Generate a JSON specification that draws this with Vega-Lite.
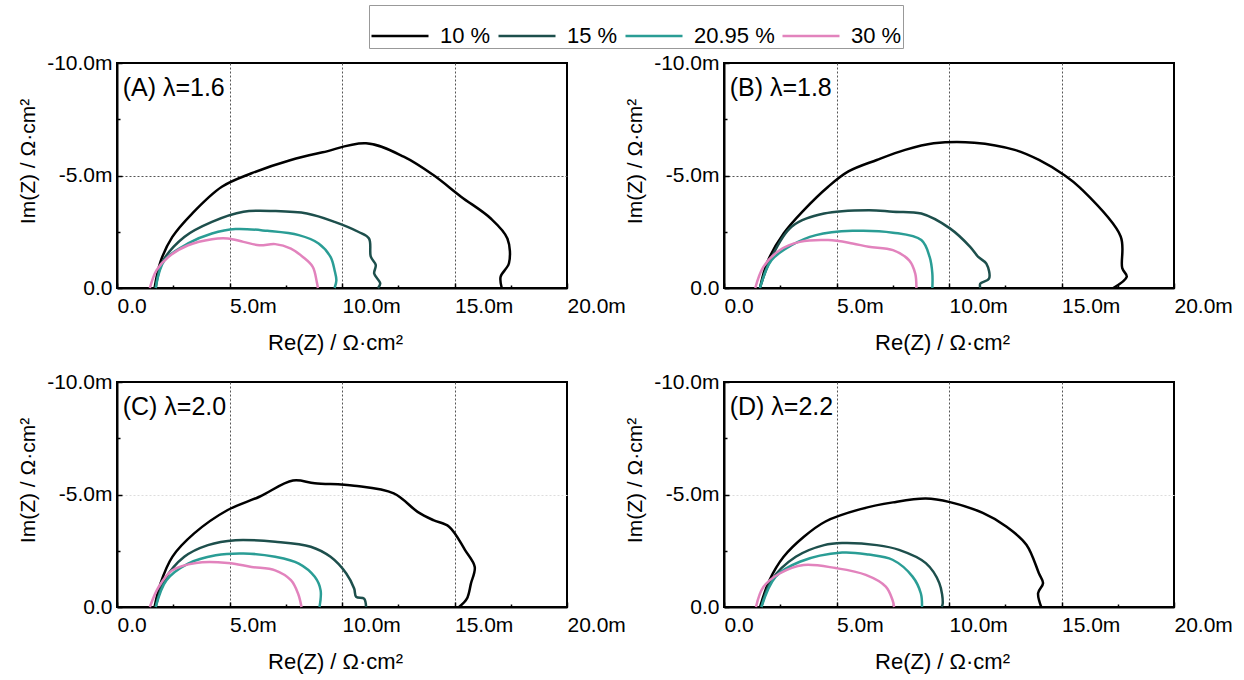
{
  "$schema": "https://vega.github.io/schema/vega-lite/v6.json",
  "padding": {"left": 16, "top": 4, "right": 5, "bottom": 5},
  "background": "white",
  "config": {
    "font": "Liberation Sans",
    "view": {"stroke": "black", "strokeWidth": 2},
    "axis": {
      "labelFont": "Liberation Sans", "labelFontSize": 21, "labelColor": "black",
      "titleFont": "Liberation Sans", "titleFontSize": 22, "titleFontWeight": "normal", "titleColor": "black",
      "domainColor": "black", "domainWidth": 2, "tickColor": "black", "tickWidth": 1.5,
      "labelFlush": false, "labelOverlap": false
    },
    "legend": {"labelFont": "Liberation Sans"}
  },
  "datasets": {
    "eis": [
      {"p":"A","s":"10 %","i":0,"re":1.67,"im":0},{"p":"A","s":"10 %","i":1,"re":1.93,"im":-1.16},{"p":"A","s":"10 %","i":2,"re":2.46,"im":-2.27},{"p":"A","s":"10 %","i":3,"re":3.34,"im":-3.31},{"p":"A","s":"10 %","i":4,"re":4.66,"im":-4.5},{"p":"A","s":"10 %","i":5,"re":5.98,"im":-5.1},{"p":"A","s":"10 %","i":6,"re":7.73,"im":-5.69},{"p":"A","s":"10 %","i":7,"re":9.14,"im":-6.03},{"p":"A","s":"10 %","i":8,"re":11.07,"im":-6.43},{"p":"A","s":"10 %","i":9,"re":12.74,"im":-5.84},{"p":"A","s":"10 %","i":10,"re":14.06,"im":-5.02},{"p":"A","s":"10 %","i":11,"re":15.29,"im":-4.06},{"p":"A","s":"10 %","i":12,"re":16.6,"im":-3.1},{"p":"A","s":"10 %","i":13,"re":17.35,"im":-2.2},{"p":"A","s":"10 %","i":14,"re":17.42,"im":-1.1},{"p":"A","s":"10 %","i":15,"re":17.05,"im":-0.5},{"p":"A","s":"10 %","i":16,"re":17.1,"im":0},
      {"p":"A","s":"15 %","i":0,"re":1.72,"im":0},{"p":"A","s":"15 %","i":1,"re":2.02,"im":-1.16},{"p":"A","s":"15 %","i":2,"re":2.99,"im":-2.27},{"p":"A","s":"15 %","i":3,"re":4.22,"im":-2.94},{"p":"A","s":"15 %","i":4,"re":5.62,"im":-3.39},{"p":"A","s":"15 %","i":5,"re":7.03,"im":-3.42},{"p":"A","s":"15 %","i":6,"re":8.44,"im":-3.31},{"p":"A","s":"15 %","i":7,"re":9.67,"im":-2.94},{"p":"A","s":"15 %","i":8,"re":10.72,"im":-2.5},{"p":"A","s":"15 %","i":9,"re":11.2,"im":-2.2},{"p":"A","s":"15 %","i":10,"re":11.28,"im":-1.39},{"p":"A","s":"15 %","i":11,"re":11.5,"im":-1.02},{"p":"A","s":"15 %","i":12,"re":11.43,"im":-0.64},{"p":"A","s":"15 %","i":13,"re":11.7,"im":-0.2},{"p":"A","s":"15 %","i":14,"re":11.6,"im":0},
      {"p":"A","s":"20.95 %","i":0,"re":1.72,"im":0},{"p":"A","s":"20.95 %","i":1,"re":2.11,"im":-1.23},{"p":"A","s":"20.95 %","i":2,"re":3.16,"im":-1.98},{"p":"A","s":"20.95 %","i":3,"re":4.22,"im":-2.42},{"p":"A","s":"20.95 %","i":4,"re":5.27,"im":-2.62},{"p":"A","s":"20.95 %","i":5,"re":6.68,"im":-2.54},{"p":"A","s":"20.95 %","i":6,"re":8.08,"im":-2.35},{"p":"A","s":"20.95 %","i":7,"re":8.96,"im":-1.98},{"p":"A","s":"20.95 %","i":8,"re":9.49,"im":-1.38},{"p":"A","s":"20.95 %","i":9,"re":9.67,"im":-0.79},{"p":"A","s":"20.95 %","i":10,"re":9.75,"im":-0.34},{"p":"A","s":"20.95 %","i":11,"re":9.67,"im":0},
      {"p":"A","s":"30 %","i":0,"re":1.46,"im":0},{"p":"A","s":"30 %","i":1,"re":1.76,"im":-0.79},{"p":"A","s":"30 %","i":2,"re":2.28,"im":-1.38},{"p":"A","s":"30 %","i":3,"re":3.16,"im":-1.9},{"p":"A","s":"30 %","i":4,"re":4.22,"im":-2.17},{"p":"A","s":"30 %","i":5,"re":4.92,"im":-2.2},{"p":"A","s":"30 %","i":6,"re":5.62,"im":-2.05},{"p":"A","s":"30 %","i":7,"re":6.33,"im":-1.9},{"p":"A","s":"30 %","i":8,"re":7.03,"im":-1.95},{"p":"A","s":"30 %","i":9,"re":7.73,"im":-1.75},{"p":"A","s":"30 %","i":10,"re":8.26,"im":-1.38},{"p":"A","s":"30 %","i":11,"re":8.7,"im":-0.94},{"p":"A","s":"30 %","i":12,"re":8.88,"im":-0.27},{"p":"A","s":"30 %","i":13,"re":8.93,"im":0},

      {"p":"B","s":"10 %","i":0,"re":1.6,"im":0},{"p":"B","s":"10 %","i":1,"re":1.93,"im":-1.16},{"p":"B","s":"10 %","i":2,"re":2.65,"im":-2.42},{"p":"B","s":"10 %","i":3,"re":3.55,"im":-3.46},{"p":"B","s":"10 %","i":4,"re":4.63,"im":-4.5},{"p":"B","s":"10 %","i":5,"re":5.53,"im":-5.18},{"p":"B","s":"10 %","i":6,"re":6.79,"im":-5.69},{"p":"B","s":"10 %","i":7,"re":8.05,"im":-6.14},{"p":"B","s":"10 %","i":8,"re":9.32,"im":-6.43},{"p":"B","s":"10 %","i":9,"re":11.12,"im":-6.46},{"p":"B","s":"10 %","i":10,"re":12.92,"im":-6.14},{"p":"B","s":"10 %","i":11,"re":14.0,"im":-5.69},{"p":"B","s":"10 %","i":12,"re":15.15,"im":-5.0},{"p":"B","s":"10 %","i":13,"re":15.83,"im":-4.45},{"p":"B","s":"10 %","i":14,"re":17.63,"im":-2.29},{"p":"B","s":"10 %","i":15,"re":17.7,"im":-0.88},{"p":"B","s":"10 %","i":16,"re":17.9,"im":-0.5},{"p":"B","s":"10 %","i":17,"re":17.3,"im":0},
      {"p":"B","s":"15 %","i":0,"re":1.6,"im":0},{"p":"B","s":"15 %","i":1,"re":2.02,"im":-1.16},{"p":"B","s":"15 %","i":2,"re":3.0,"im":-2.72},{"p":"B","s":"15 %","i":3,"re":4.45,"im":-3.31},{"p":"B","s":"15 %","i":4,"re":6.43,"im":-3.46},{"p":"B","s":"15 %","i":5,"re":7.51,"im":-3.39},{"p":"B","s":"15 %","i":6,"re":8.77,"im":-3.31},{"p":"B","s":"15 %","i":7,"re":10.04,"im":-2.65},{"p":"B","s":"15 %","i":8,"re":10.94,"im":-1.83},{"p":"B","s":"15 %","i":9,"re":11.3,"im":-1.38},{"p":"B","s":"15 %","i":10,"re":11.66,"im":-1.08},{"p":"B","s":"15 %","i":11,"re":11.78,"im":-0.42},{"p":"B","s":"15 %","i":12,"re":11.39,"im":-0.19},{"p":"B","s":"15 %","i":13,"re":11.39,"im":0},
      {"p":"B","s":"20.95 %","i":0,"re":1.6,"im":0},{"p":"B","s":"20.95 %","i":1,"re":2.11,"im":-1.23},{"p":"B","s":"20.95 %","i":2,"re":3.0,"im":-1.9},{"p":"B","s":"20.95 %","i":3,"re":4.09,"im":-2.35},{"p":"B","s":"20.95 %","i":4,"re":5.71,"im":-2.54},{"p":"B","s":"20.95 %","i":5,"re":7.51,"im":-2.46},{"p":"B","s":"20.95 %","i":6,"re":8.77,"im":-2.13},{"p":"B","s":"20.95 %","i":7,"re":9.14,"im":-1.38},{"p":"B","s":"20.95 %","i":8,"re":9.26,"im":-0.64},{"p":"B","s":"20.95 %","i":9,"re":9.26,"im":0},
      {"p":"B","s":"30 %","i":0,"re":1.39,"im":0},{"p":"B","s":"30 %","i":1,"re":1.75,"im":-0.94},{"p":"B","s":"30 %","i":2,"re":2.47,"im":-1.68},{"p":"B","s":"30 %","i":3,"re":3.37,"im":-2.05},{"p":"B","s":"30 %","i":4,"re":4.63,"im":-2.13},{"p":"B","s":"30 %","i":5,"re":5.71,"im":-1.98},{"p":"B","s":"30 %","i":6,"re":6.43,"im":-1.83},{"p":"B","s":"30 %","i":7,"re":7.51,"im":-1.68},{"p":"B","s":"30 %","i":8,"re":8.23,"im":-1.23},{"p":"B","s":"30 %","i":9,"re":8.5,"im":-0.64},{"p":"B","s":"30 %","i":10,"re":8.55,"im":0},

      {"p":"C","s":"10 %","i":0,"re":1.67,"im":0},{"p":"C","s":"10 %","i":1,"re":1.93,"im":-1.04},{"p":"C","s":"10 %","i":2,"re":2.46,"im":-2.23},{"p":"C","s":"10 %","i":3,"re":3.43,"im":-3.27},{"p":"C","s":"10 %","i":4,"re":4.92,"im":-4.31},{"p":"C","s":"10 %","i":5,"re":6.33,"im":-4.9},{"p":"C","s":"10 %","i":6,"re":7.82,"im":-5.62},{"p":"C","s":"10 %","i":7,"re":8.79,"im":-5.5},{"p":"C","s":"10 %","i":8,"re":10.54,"im":-5.39},{"p":"C","s":"10 %","i":9,"re":12.3,"im":-5.05},{"p":"C","s":"10 %","i":10,"re":13.36,"im":-4.23},{"p":"C","s":"10 %","i":11,"re":14.06,"im":-3.86},{"p":"C","s":"10 %","i":12,"re":14.76,"im":-3.57},{"p":"C","s":"10 %","i":13,"re":15.47,"im":-2.53},{"p":"C","s":"10 %","i":14,"re":15.9,"im":-1.78},{"p":"C","s":"10 %","i":15,"re":15.73,"im":-1.04},{"p":"C","s":"10 %","i":16,"re":15.55,"im":-0.37},{"p":"C","s":"10 %","i":17,"re":15.2,"im":0},
      {"p":"C","s":"15 %","i":0,"re":1.72,"im":0},{"p":"C","s":"15 %","i":1,"re":2.11,"im":-1.19},{"p":"C","s":"15 %","i":2,"re":2.99,"im":-2.23},{"p":"C","s":"15 %","i":3,"re":4.04,"im":-2.75},{"p":"C","s":"15 %","i":4,"re":5.27,"im":-2.97},{"p":"C","s":"15 %","i":5,"re":7.03,"im":-2.9},{"p":"C","s":"15 %","i":6,"re":8.61,"im":-2.68},{"p":"C","s":"15 %","i":7,"re":9.49,"im":-2.23},{"p":"C","s":"15 %","i":8,"re":10.19,"im":-1.49},{"p":"C","s":"15 %","i":9,"re":10.54,"im":-0.82},{"p":"C","s":"15 %","i":10,"re":10.63,"im":-0.45},{"p":"C","s":"15 %","i":11,"re":10.98,"im":-0.37},{"p":"C","s":"15 %","i":12,"re":11.07,"im":0},
      {"p":"C","s":"20.95 %","i":0,"re":1.72,"im":0},{"p":"C","s":"20.95 %","i":1,"re":2.2,"im":-1.19},{"p":"C","s":"20.95 %","i":2,"re":3.16,"im":-1.93},{"p":"C","s":"20.95 %","i":3,"re":4.39,"im":-2.3},{"p":"C","s":"20.95 %","i":4,"re":5.62,"im":-2.38},{"p":"C","s":"20.95 %","i":5,"re":7.03,"im":-2.23},{"p":"C","s":"20.95 %","i":6,"re":8.08,"im":-1.93},{"p":"C","s":"20.95 %","i":7,"re":8.79,"im":-1.34},{"p":"C","s":"20.95 %","i":8,"re":9.05,"im":-0.74},{"p":"C","s":"20.95 %","i":9,"re":9.0,"im":0},
      {"p":"C","s":"30 %","i":0,"re":1.46,"im":0},{"p":"C","s":"30 %","i":1,"re":1.85,"im":-0.89},{"p":"C","s":"30 %","i":2,"re":2.46,"im":-1.63},{"p":"C","s":"30 %","i":3,"re":3.51,"im":-1.96},{"p":"C","s":"30 %","i":4,"re":4.92,"im":-1.96},{"p":"C","s":"30 %","i":5,"re":5.98,"im":-1.78},{"p":"C","s":"30 %","i":6,"re":7.03,"im":-1.63},{"p":"C","s":"30 %","i":7,"re":7.73,"im":-1.19},{"p":"C","s":"30 %","i":8,"re":8.05,"im":-0.59},{"p":"C","s":"30 %","i":9,"re":8.2,"im":0},

      {"p":"D","s":"10 %","i":0,"re":1.6,"im":0},{"p":"D","s":"10 %","i":1,"re":2.02,"im":-1.19},{"p":"D","s":"10 %","i":2,"re":2.65,"im":-2.23},{"p":"D","s":"10 %","i":3,"re":3.55,"im":-3.12},{"p":"D","s":"10 %","i":4,"re":4.51,"im":-3.8},{"p":"D","s":"10 %","i":5,"re":6.07,"im":-4.35},{"p":"D","s":"10 %","i":6,"re":7.51,"im":-4.65},{"p":"D","s":"10 %","i":7,"re":8.97,"im":-4.82},{"p":"D","s":"10 %","i":8,"re":10.04,"im":-4.66},{"p":"D","s":"10 %","i":9,"re":11.5,"im":-4.18},{"p":"D","s":"10 %","i":10,"re":12.56,"im":-3.57},{"p":"D","s":"10 %","i":11,"re":13.44,"im":-2.77},{"p":"D","s":"10 %","i":12,"re":14.0,"im":-1.49},{"p":"D","s":"10 %","i":13,"re":14.18,"im":-1.06},{"p":"D","s":"10 %","i":14,"re":13.96,"im":-0.62},{"p":"D","s":"10 %","i":15,"re":14.1,"im":0},
      {"p":"D","s":"15 %","i":0,"re":1.66,"im":0},{"p":"D","s":"15 %","i":1,"re":2.11,"im":-1.19},{"p":"D","s":"15 %","i":2,"re":3.19,"im":-2.23},{"p":"D","s":"15 %","i":3,"re":4.45,"im":-2.75},{"p":"D","s":"15 %","i":4,"re":5.25,"im":-2.84},{"p":"D","s":"15 %","i":5,"re":6.79,"im":-2.75},{"p":"D","s":"15 %","i":6,"re":7.78,"im":-2.54},{"p":"D","s":"15 %","i":7,"re":8.97,"im":-1.95},{"p":"D","s":"15 %","i":8,"re":9.57,"im":-1.06},{"p":"D","s":"15 %","i":9,"re":9.72,"im":-0.15},{"p":"D","s":"15 %","i":10,"re":9.67,"im":0},
      {"p":"D","s":"20.95 %","i":0,"re":1.66,"im":0},{"p":"D","s":"20.95 %","i":1,"re":2.29,"im":-1.34},{"p":"D","s":"20.95 %","i":2,"re":3.37,"im":-2.01},{"p":"D","s":"20.95 %","i":3,"re":5.25,"im":-2.42},{"p":"D","s":"20.95 %","i":4,"re":6.43,"im":-2.33},{"p":"D","s":"20.95 %","i":5,"re":7.49,"im":-2.1},{"p":"D","s":"20.95 %","i":6,"re":8.38,"im":-1.35},{"p":"D","s":"20.95 %","i":7,"re":8.75,"im":-0.6},{"p":"D","s":"20.95 %","i":8,"re":8.8,"im":0},
      {"p":"D","s":"30 %","i":0,"re":1.42,"im":0},{"p":"D","s":"30 %","i":1,"re":1.75,"im":-0.89},{"p":"D","s":"30 %","i":2,"re":2.47,"im":-1.49},{"p":"D","s":"30 %","i":3,"re":3.54,"im":-1.87},{"p":"D","s":"30 %","i":4,"re":4.96,"im":-1.73},{"p":"D","s":"30 %","i":5,"re":6.3,"im":-1.43},{"p":"D","s":"30 %","i":6,"re":7.19,"im":-0.91},{"p":"D","s":"30 %","i":7,"re":7.49,"im":-0.31},{"p":"D","s":"30 %","i":8,"re":7.56,"im":0}
    ]
  },
  "columns": 2,
  "spacing": {"row": 94, "column": 157},
  "bounds": "flush",
  "resolve": {"scale": {"color": "shared"}},
  "concat": [
    {
      "width": 450, "height": 225,
      "layer": [
        {
          "data": {"name": "eis"},
          "transform": [{"filter": "datum.p === 'A'"}],
          "mark": {"type": "line", "strokeWidth": 2.5, "interpolate": "catmull-rom"},
          "encoding": {
            "x": {"field": "re", "type": "quantitative", "scale": {"domain": [0, 20], "nice": false, "zero": false},
              "axis": {"title": "Re(Z) / Ω·cm²", "titleX": 218, "values": [0, 2.5, 5, 7.5, 10, 12.5, 15, 17.5, 20], "labelAlign": "left", "labelPadding": 12, "titlePadding": 14,
                "labelExpr": "datum.value % 5 !== 0 ? '' : (datum.value === 0 ? '0.0' : (datum.value < 0 ? '-' : '') + format(abs(datum.value), '.1f') + 'm')",
                "tickSize": {"condition": {"test": "datum.value % 5 !== 0", "value": -3}, "value": -5},
                "grid": true, "gridDash": [2, 2], "gridColor": "#555", "gridWidth": 1,
                "gridOpacity": {"condition": {"test": "datum.value % 5 === 0 && datum.value > 0 && datum.value < 20", "value": 1}, "value": 0}}},
            "y": {"field": "im", "type": "quantitative", "scale": {"domain": [0, -10], "nice": false, "zero": false},
              "axis": {"title": "Im(Z) / Ω·cm²", "titleFontSize": 21, "titleY": 98, "values": [0, -2.5, -5, -7.5, -10], "labelPadding": 10, "titlePadding": 8,
                "labelExpr": "datum.value % 5 !== 0 ? '' : (datum.value === 0 ? '0.0' : (datum.value < 0 ? '-' : '') + format(abs(datum.value), '.1f') + 'm')",
                "tickSize": {"condition": {"test": "datum.value % 5 !== 0", "value": -3}, "value": -5},
                "grid": true, "gridDash": [2, 2], "gridColor": "#555", "gridWidth": 1,
                "gridOpacity": {"condition": {"test": "datum.value === -5", "value": 1}, "value": 0}}},
            "color": {"field": "s", "type": "nominal",
              "scale": {"domain": ["10 %", "15 %", "20.95 %", "30 %"], "range": ["#000000", "#1d4f4c", "#2a9d95", "#e283bd"]},
              "legend": {"orient": "none", "legendX": 252, "legendY": -58, "direction": "horizontal", "title": null,
                "symbolType": "stroke", "symbolSize": 3250, "symbolStrokeWidth": 2.5, "labelFontSize": 22, "labelColor": "black",
                "labelOffset": 10, "columnPadding": 2, "padding": 1, "strokeColor": "#999", "fillColor": "white"}},
            "order": {"field": "i", "type": "quantitative"}
          }
        },
        {
          "data": {"values": [{"label": "(A) λ=1.6"}]},
          "mark": {"type": "text", "align": "left", "baseline": "alphabetic", "fontSize": 25, "font": "Liberation Sans", "color": "black"},
          "encoding": {"x": {"datum": 0.25}, "y": {"datum": -8.55}, "text": {"field": "label"}}
        }
      ]
    },
    {
      "width": 450, "height": 225,
      "layer": [
        {
          "data": {"name": "eis"},
          "transform": [{"filter": "datum.p === 'B'"}],
          "mark": {"type": "line", "strokeWidth": 2.5, "interpolate": "catmull-rom"},
          "encoding": {
            "x": {"field": "re", "type": "quantitative", "scale": {"domain": [0, 20], "nice": false, "zero": false},
              "axis": {"title": "Re(Z) / Ω·cm²", "titleX": 218, "values": [0, 2.5, 5, 7.5, 10, 12.5, 15, 17.5, 20], "labelAlign": "left", "labelPadding": 12, "titlePadding": 14,
                "labelExpr": "datum.value % 5 !== 0 ? '' : (datum.value === 0 ? '0.0' : (datum.value < 0 ? '-' : '') + format(abs(datum.value), '.1f') + 'm')",
                "tickSize": {"condition": {"test": "datum.value % 5 !== 0", "value": -3}, "value": -5},
                "grid": true, "gridDash": [2, 2], "gridColor": "#555", "gridWidth": 1,
                "gridOpacity": {"condition": {"test": "datum.value % 5 === 0 && datum.value > 0 && datum.value < 20", "value": 1}, "value": 0}}},
            "y": {"field": "im", "type": "quantitative", "scale": {"domain": [0, -10], "nice": false, "zero": false},
              "axis": {"title": "Im(Z) / Ω·cm²", "titleFontSize": 21, "titleY": 98, "values": [0, -2.5, -5, -7.5, -10], "labelPadding": 10, "titlePadding": 8,
                "labelExpr": "datum.value % 5 !== 0 ? '' : (datum.value === 0 ? '0.0' : (datum.value < 0 ? '-' : '') + format(abs(datum.value), '.1f') + 'm')",
                "tickSize": {"condition": {"test": "datum.value % 5 !== 0", "value": -3}, "value": -5},
                "grid": true, "gridDash": [2, 2], "gridColor": "#555", "gridWidth": 1,
                "gridOpacity": {"condition": {"test": "datum.value === -5", "value": 1}, "value": 0}}},
            "color": {"field": "s", "type": "nominal"},
            "order": {"field": "i", "type": "quantitative"}
          }
        },
        {
          "data": {"values": [{"label": "(B) λ=1.8"}]},
          "mark": {"type": "text", "align": "left", "baseline": "alphabetic", "fontSize": 25, "font": "Liberation Sans", "color": "black"},
          "encoding": {"x": {"datum": 0.25}, "y": {"datum": -8.55}, "text": {"field": "label"}}
        }
      ]
    },
    {
      "width": 450, "height": 225,
      "layer": [
        {
          "data": {"name": "eis"},
          "transform": [{"filter": "datum.p === 'C'"}],
          "mark": {"type": "line", "strokeWidth": 2.5, "interpolate": "catmull-rom"},
          "encoding": {
            "x": {"field": "re", "type": "quantitative", "scale": {"domain": [0, 20], "nice": false, "zero": false},
              "axis": {"title": "Re(Z) / Ω·cm²", "titleX": 218, "values": [0, 2.5, 5, 7.5, 10, 12.5, 15, 17.5, 20], "labelAlign": "left", "labelPadding": 12, "titlePadding": 14,
                "labelExpr": "datum.value % 5 !== 0 ? '' : (datum.value === 0 ? '0.0' : (datum.value < 0 ? '-' : '') + format(abs(datum.value), '.1f') + 'm')",
                "tickSize": {"condition": {"test": "datum.value % 5 !== 0", "value": -3}, "value": -5},
                "grid": true, "gridDash": [2, 2], "gridColor": "#555", "gridWidth": 1,
                "gridOpacity": {"condition": {"test": "datum.value % 5 === 0 && datum.value > 0 && datum.value < 20", "value": 1}, "value": 0}}},
            "y": {"field": "im", "type": "quantitative", "scale": {"domain": [0, -10], "nice": false, "zero": false},
              "axis": {"title": "Im(Z) / Ω·cm²", "titleFontSize": 21, "titleY": 98, "values": [0, -2.5, -5, -7.5, -10], "labelPadding": 10, "titlePadding": 8,
                "labelExpr": "datum.value % 5 !== 0 ? '' : (datum.value === 0 ? '0.0' : (datum.value < 0 ? '-' : '') + format(abs(datum.value), '.1f') + 'm')",
                "tickSize": {"condition": {"test": "datum.value % 5 !== 0", "value": -3}, "value": -5},
                "grid": true, "gridDash": [2, 2], "gridColor": "#ddd", "gridWidth": 1,
                "gridOpacity": {"condition": {"test": "datum.value === -5", "value": 1}, "value": 0}}},
            "color": {"field": "s", "type": "nominal"},
            "order": {"field": "i", "type": "quantitative"}
          }
        },
        {
          "data": {"values": [{"label": "(C) λ=2.0"}]},
          "mark": {"type": "text", "align": "left", "baseline": "alphabetic", "fontSize": 25, "font": "Liberation Sans", "color": "black"},
          "encoding": {"x": {"datum": 0.25}, "y": {"datum": -8.55}, "text": {"field": "label"}}
        }
      ]
    },
    {
      "width": 450, "height": 225,
      "layer": [
        {
          "data": {"name": "eis"},
          "transform": [{"filter": "datum.p === 'D'"}],
          "mark": {"type": "line", "strokeWidth": 2.5, "interpolate": "catmull-rom"},
          "encoding": {
            "x": {"field": "re", "type": "quantitative", "scale": {"domain": [0, 20], "nice": false, "zero": false},
              "axis": {"title": "Re(Z) / Ω·cm²", "titleX": 218, "values": [0, 2.5, 5, 7.5, 10, 12.5, 15, 17.5, 20], "labelAlign": "left", "labelPadding": 12, "titlePadding": 14,
                "labelExpr": "datum.value % 5 !== 0 ? '' : (datum.value === 0 ? '0.0' : (datum.value < 0 ? '-' : '') + format(abs(datum.value), '.1f') + 'm')",
                "tickSize": {"condition": {"test": "datum.value % 5 !== 0", "value": -3}, "value": -5},
                "grid": true, "gridDash": [2, 2], "gridColor": "#555", "gridWidth": 1,
                "gridOpacity": {"condition": {"test": "datum.value % 5 === 0 && datum.value > 0 && datum.value < 20", "value": 1}, "value": 0}}},
            "y": {"field": "im", "type": "quantitative", "scale": {"domain": [0, -10], "nice": false, "zero": false},
              "axis": {"title": "Im(Z) / Ω·cm²", "titleFontSize": 21, "titleY": 98, "values": [0, -2.5, -5, -7.5, -10], "labelPadding": 10, "titlePadding": 8,
                "labelExpr": "datum.value % 5 !== 0 ? '' : (datum.value === 0 ? '0.0' : (datum.value < 0 ? '-' : '') + format(abs(datum.value), '.1f') + 'm')",
                "tickSize": {"condition": {"test": "datum.value % 5 !== 0", "value": -3}, "value": -5},
                "grid": true, "gridDash": [2, 2], "gridColor": "#ddd", "gridWidth": 1,
                "gridOpacity": {"condition": {"test": "datum.value === -5", "value": 1}, "value": 0}}},
            "color": {"field": "s", "type": "nominal"},
            "order": {"field": "i", "type": "quantitative"}
          }
        },
        {
          "data": {"values": [{"label": "(D) λ=2.2"}]},
          "mark": {"type": "text", "align": "left", "baseline": "alphabetic", "fontSize": 25, "font": "Liberation Sans", "color": "black"},
          "encoding": {"x": {"datum": 0.25}, "y": {"datum": -8.55}, "text": {"field": "label"}}
        }
      ]
    }
  ]
}
